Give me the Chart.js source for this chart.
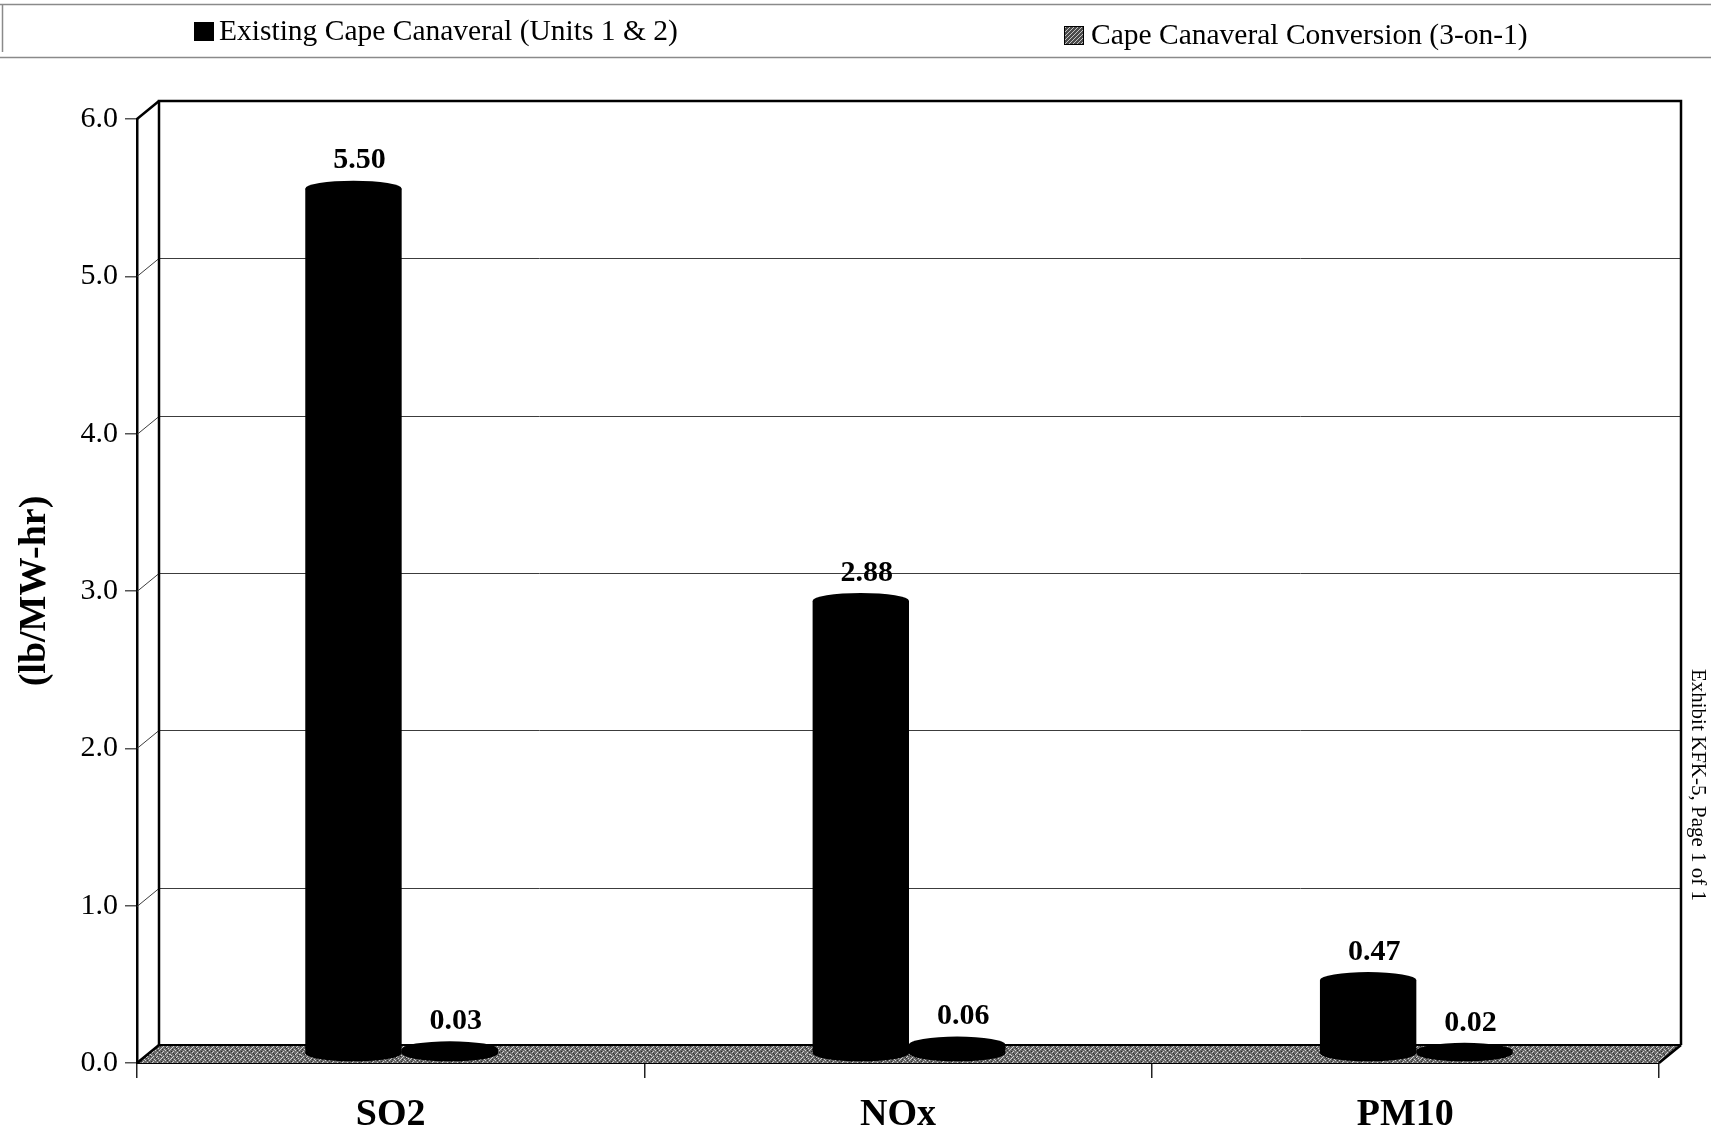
<!DOCTYPE html>
<html>
<head>
<meta charset="utf-8">
<script src="https://cdn.jsdelivr.net/npm/chart.js@4/dist/chart.umd.min.js"></script>
<style>
  html, body { margin: 0; padding: 0; background: #fff; }
  canvas { display: block; }
</style>
</head>
<body>
<canvas id="c" width="1711" height="1133"></canvas>
<script>
// Emission rates by pollutant (lb/MW-hr)
const categories = ['SO2', 'NOx', 'PM10'];
const seriesNames = ['Existing Cape Canaveral (Units 1 & 2)', 'Cape Canaveral Conversion (3-on-1)'];
const existingUnits = [5.50, 2.88, 0.47];
const conversionUnits = [0.03, 0.06, 0.02];
const yTicks = [0, 1, 2, 3, 4, 5, 6];
const axisTitle = '(lb/MW-hr)';
const sideNote = 'Exhibit KFK-5, Page 1 of 1';

const SERIF = '"Liberation Serif", "Times New Roman", serif';

// depth of the 3-D box: back wall offset and bar mid-depth offset
const DEPTH_X = 22, DEPTH_Y = -18;
const MID_X = 11, MID_Y = -9;
const CAP_RY = 8;

// stippled grey used for the floor of the box
function makeFloorPattern(ctx) {
  const t = document.createElement('canvas');
  t.width = 10; t.height = 10;
  const g = t.getContext('2d');
  g.fillStyle = '#6c6c6c';
  g.fillRect(0, 0, 10, 10);
  g.fillStyle = '#d0d0d0';
  const light = [[0,9],[1,8],[2,7],[3,6],[5,4],[6,3],[7,2],[9,0],[4,9],[6,7],[7,6],[9,4],[0,4],[2,2],[3,1],[8,8],[5,0],[1,5]];
  light.forEach(([x, y]) => g.fillRect(x, y, 1, 1));
  g.fillStyle = '#2e2e2e';
  const dark = [[1,1],[4,4],[8,5],[2,9],[6,8],[9,2],[3,3],[7,0],[0,6],[5,7]];
  dark.forEach(([x, y]) => g.fillRect(x, y, 1, 1));
  return ctx.createPattern(t, 'repeat');
}

function makeLegendPattern(ctx) {
  const t = document.createElement('canvas');
  t.width = 4; t.height = 4;
  const g = t.getContext('2d');
  g.fillStyle = '#4a4a4a';
  g.fillRect(0, 0, 4, 4);
  g.fillStyle = '#c4c4c4';
  g.fillRect(0, 0, 1, 1); g.fillRect(2, 2, 1, 1); g.fillRect(1, 3, 1, 1); g.fillRect(3, 1, 1, 1);
  return ctx.createPattern(t, 'repeat');
}

const boxPlugin = {
  id: 'box3d',
  beforeDatasetsDraw(chart) {
    const { ctx, chartArea: a, scales: { y } } = chart;
    ctx.save();
    // floor
    ctx.beginPath();
    ctx.moveTo(a.left, a.bottom);
    ctx.lineTo(a.right, a.bottom);
    ctx.lineTo(a.right + DEPTH_X, a.bottom + DEPTH_Y);
    ctx.lineTo(a.left + DEPTH_X, a.bottom + DEPTH_Y);
    ctx.closePath();
    ctx.fillStyle = makeFloorPattern(ctx);
    ctx.fill();

    // gridlines on the back wall and left wall
    ctx.strokeStyle = '#3c3c3c';
    ctx.lineWidth = 1;
    yTicks.forEach(v => {
      if (v === 0 || v === yTicks[yTicks.length - 1]) return;
      const py = Math.round(y.getPixelForValue(v)) + 0.5;
      ctx.beginPath();
      ctx.moveTo(a.left, py);
      ctx.lineTo(a.left + DEPTH_X, py + DEPTH_Y);
      ctx.lineTo(a.right + DEPTH_X, py + DEPTH_Y);
      ctx.stroke();
    });

    // back wall outline
    ctx.strokeStyle = '#000';
    ctx.lineWidth = 2.5;
    ctx.beginPath();
    ctx.moveTo(a.left + DEPTH_X, a.bottom + DEPTH_Y);
    ctx.lineTo(a.left + DEPTH_X, a.top + DEPTH_Y);
    ctx.lineTo(a.right + DEPTH_X, a.top + DEPTH_Y);
    ctx.lineTo(a.right + DEPTH_X, a.bottom + DEPTH_Y);
    ctx.stroke();
    ctx.lineWidth = 2;
    ctx.beginPath();
    ctx.moveTo(a.left + DEPTH_X, a.bottom + DEPTH_Y);
    ctx.lineTo(a.right + DEPTH_X, a.bottom + DEPTH_Y);
    ctx.stroke();
    // side edges
    ctx.lineWidth = 2.5;
    ctx.beginPath();
    ctx.moveTo(a.left, a.top);
    ctx.lineTo(a.left + DEPTH_X, a.top + DEPTH_Y);
    ctx.moveTo(a.left, a.bottom);
    ctx.lineTo(a.left + DEPTH_X, a.bottom + DEPTH_Y);
    ctx.moveTo(a.right, a.bottom);
    ctx.lineTo(a.right + DEPTH_X, a.bottom + DEPTH_Y);
    ctx.stroke();
    ctx.restore();
  },
  afterDatasetsDraw(chart) {
    const { ctx } = chart;
    ctx.save();
    chart.data.datasets.forEach((ds, di) => {
      const meta = chart.getDatasetMeta(di);
      meta.data.forEach((bar, i) => {
        const cx = bar.x + MID_X;
        const top = bar.y + MID_Y;
        const base = bar.base + MID_Y;
        const rx = bar.width / 2;
        ctx.fillStyle = '#000';
        // body
        ctx.fillRect(cx - rx, top, rx * 2, base - top);
        // bottom and top caps
        ctx.beginPath();
        ctx.ellipse(cx, base, rx, CAP_RY, 0, 0, Math.PI * 2);
        ctx.fill();
        ctx.beginPath();
        ctx.ellipse(cx, top, rx, CAP_RY, 0, 0, Math.PI * 2);
        ctx.fill();
        // value label
        ctx.font = 'bold 30px ' + SERIF;
        ctx.textAlign = 'center';
        ctx.textBaseline = 'middle';
        ctx.fillText(ds.data[i].toFixed(2), cx + 6, top - CAP_RY - 20);
      });
    });
    ctx.restore();
  },
  afterDraw(chart) {
    const { ctx } = chart;
    ctx.save();
    // legend strip
    ctx.strokeStyle = '#8a8a8a';
    ctx.lineWidth = 1.5;
    ctx.beginPath();
    ctx.moveTo(0, 4.5); ctx.lineTo(1711, 4.5);
    ctx.moveTo(0, 57.5); ctx.lineTo(1711, 57.5);
    ctx.moveTo(2.5, 4.5); ctx.lineTo(2.5, 52);
    ctx.stroke();

    ctx.font = '29.5px ' + SERIF;
    ctx.textBaseline = 'middle';
    ctx.textAlign = 'left';
    ctx.fillStyle = '#000';
    ctx.fillRect(194, 22, 20, 19);
    ctx.fillText(chart.data.datasets[0].label, 219, 32);
    ctx.fillStyle = makeLegendPattern(ctx);
    ctx.fillRect(1064, 26, 20, 19);
    ctx.strokeStyle = '#000';
    ctx.lineWidth = 1;
    ctx.strokeRect(1064.5, 26.5, 19, 18);
    ctx.fillStyle = '#000';
    ctx.fillText(chart.data.datasets[1].label, 1091, 36);

    // side note, rotated
    ctx.translate(1698, 785);
    ctx.rotate(Math.PI / 2);
    ctx.font = '21px ' + SERIF;
    ctx.textAlign = 'center';
    ctx.fillText(sideNote, 0, 0);
    ctx.restore();
  }
};

new Chart(document.getElementById('c'), {
  type: 'bar',
  data: {
    labels: categories,
    datasets: [
      { label: seriesNames[0], data: existingUnits, backgroundColor: 'rgba(0,0,0,0)', borderWidth: 0,
        categoryPercentage: 0.38, barPercentage: 1.0 },
      { label: seriesNames[1], data: conversionUnits, backgroundColor: 'rgba(0,0,0,0)', borderWidth: 0,
        categoryPercentage: 0.38, barPercentage: 1.0 }
    ]
  },
  options: {
    responsive: false,
    animation: false,
    devicePixelRatio: 1,
    layout: { padding: { top: 119, right: 52, left: 0, bottom: 0 } },
    plugins: { legend: { display: false }, tooltip: { enabled: false } },
    scales: {
      x: {
        type: 'category',
        offset: true,
        grid: { offset: true, drawOnChartArea: false, drawTicks: true, tickLength: 15, color: '#222', lineWidth: 1.5 },
        border: { display: true, color: '#000', width: 2 },
        ticks: { font: { family: SERIF, size: 38, weight: 'bold' }, color: '#000', padding: 14 },
        afterFit(s) { s.height = 70; }
      },
      y: {
        min: 0, max: 6,
        afterBuildTicks(s) { s.ticks = yTicks.map(v => ({ value: v })); },
        ticks: { font: { family: SERIF, size: 30 }, color: '#000', padding: 7,
                 callback: v => Number(v).toFixed(1) },
        grid: { drawOnChartArea: false, drawTicks: true, tickLength: 12, color: '#555', lineWidth: 1.5 },
        border: { display: true, color: '#000', width: 2.5 },
        title: { display: true, text: axisTitle, color: '#000',
                 font: { family: SERIF, size: 38, weight: 'bold' }, padding: { top: 12, bottom: 0 } },
        afterFit(s) { s.width = 137; }
      }
    }
  },
  plugins: [boxPlugin]
});
</script>
</body>
</html>
